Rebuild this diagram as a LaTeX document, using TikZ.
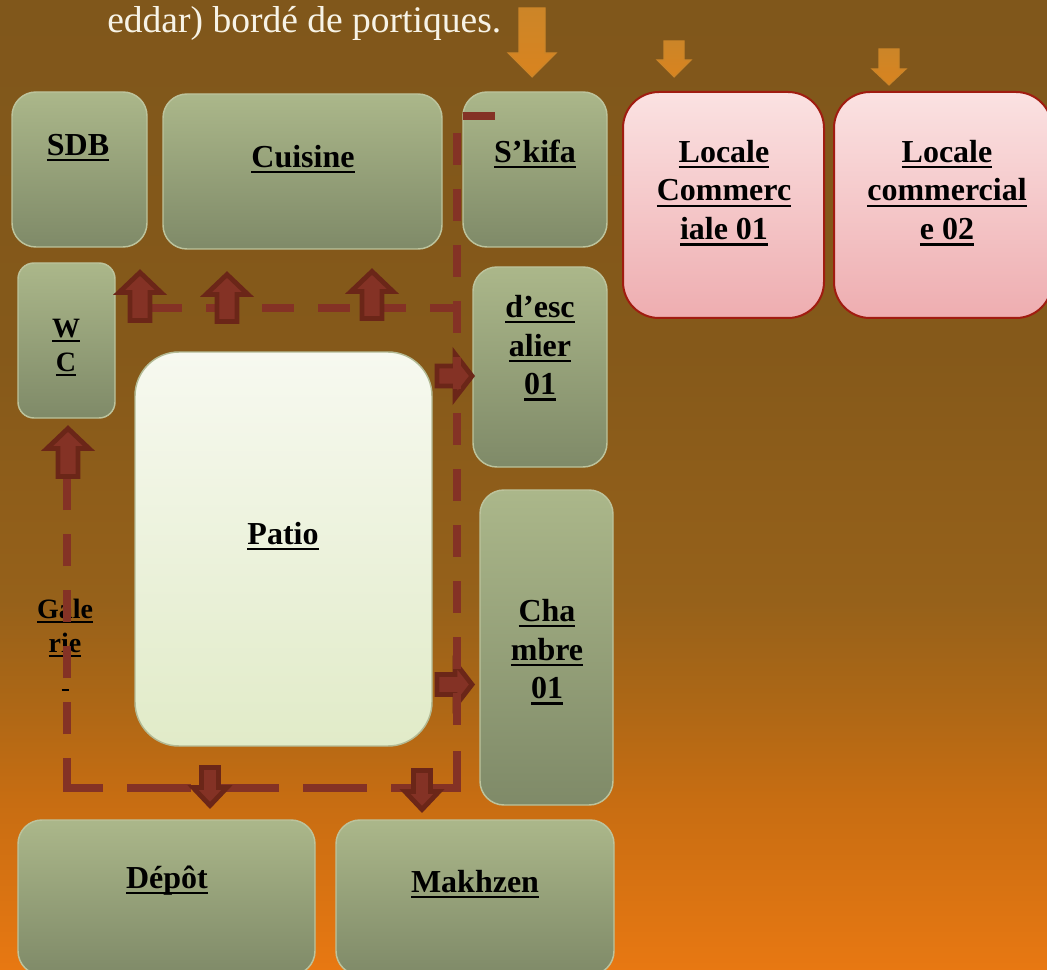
\documentclass[tikz,border=0pt]{standalone}
\usepackage{fontspec}
\setmainfont{Liberation Serif}
\definecolor{bgA}{HTML}{E87812}
\definecolor{bgB}{HTML}{C76D12}
\definecolor{bgC}{HTML}{AC6716}
\definecolor{bgD}{HTML}{96611A}
\definecolor{bgE}{HTML}{85591A}
\definecolor{bgF}{HTML}{80571B}
\definecolor{lineRed}{HTML}{843225}
\definecolor{darkRed}{HTML}{6B2618}
\definecolor{greenTop}{HTML}{ABB78A}
\definecolor{greenBot}{HTML}{7F8A68}
\definecolor{greenEdge}{HTML}{BCC39C}
\definecolor{pinkTop}{HTML}{FBE2E2}
\definecolor{pinkBot}{HTML}{EEADB0}
\definecolor{pinkEdge}{HTML}{A01C10}
\definecolor{patioTop}{HTML}{F7F9F0}
\definecolor{patioBot}{HTML}{E1EBC8}
\definecolor{patioEdge}{HTML}{B3BA94}
\definecolor{orangeTop}{HTML}{CC8528}
\definecolor{orangeMid}{HTML}{E08414}
\definecolor{orangeBot}{HTML}{D9841F}
\definecolor{topText}{HTML}{F7F3E6}
\pgfdeclareverticalshading{bgshade}{100bp}{color(0bp)=(bgA); color(25bp)=(bgA); color(33.76bp)=(bgB); color(38.9bp)=(bgC); color(44.07bp)=(bgD); color(56.96bp)=(bgE); color(75bp)=(bgF); color(100bp)=(bgF)}
\newcommand\ulin[1]{\strut\setbox0=\hbox{#1}\rlap{\rule[-0.19em]{\wd0}{0.075em}}\box0}
% tip x, tip y, rotation, half width, head length, shaft half width, total length
\newcommand\redarrow[7]{\draw[redarrowstyle,shift={(#1,#2)},rotate=#3] (0,0) -- (#4,#5) -- (#6,#5) -- (#6,#7) -- (-#6,#7) -- (-#6,#5) -- (-#4,#5) -- cycle;}
\newcommand\orangearrow[6]{\shade[orangearrowstyle,shift={(#1,#2)},rotate=180] (0,0) -- (#3,#4) -- (#5,#4) -- (#5,#6) -- (-#5,#6) -- (-#5,#4) -- (-#3,#4) -- cycle;}
\tikzset{
  box/.style={rectangle,inner sep=0pt,outer sep=0pt,line width=1.1pt},
  size/.style 2 args={minimum width=#1*0.75pt,minimum height=#2*0.75pt},
  greenbox/.style={box,draw=greenEdge,top color=greenTop,bottom color=greenBot,rounded corners=18pt},
  pinkbox/.style={box,draw=pinkEdge,line width=1.5pt,top color=pinkTop,bottom color=pinkBot,rounded corners=27pt},
  patiobox/.style={box,draw=patioEdge,top color=patioTop,bottom color=patioBot,rounded corners=33pt},
  biglabel/.style={anchor=north,align=center,inner sep=0pt,text=black,font=\fontsize{24}{29}\selectfont\bfseries},
  smalllabel/.style={anchor=north,align=center,inner sep=0pt,text=black,font=\fontsize{21}{25.5}\selectfont\bfseries},
  redarrowstyle/.style={draw=darkRed,fill=lineRed,line width=3.6pt,miter limit=10},
  orangearrowstyle/.style={top color=orangeTop,middle color=orangeMid,bottom color=orangeBot,draw=orangeTop,line width=0.8pt},
  shortdash/.style={draw=lineRed,line width=6pt,dash pattern=on 24pt off 18pt},
  longdash/.style={draw=lineRed,line width=6pt,dash pattern=on 48pt off 18pt},
  solidred/.style={draw=lineRed,line width=6pt},
}
\begin{document}
\begin{tikzpicture}[x=0.75pt,y=-0.75pt]
\useasboundingbox (0,0) rectangle (1047,970);
\clip (0,0) rectangle (1047,970);
\shade[shading=bgshade] (0,0) rectangle (1047,970);

\node[anchor=base west,inner sep=0pt,text=topText,font=\fontsize{28.15}{34}\selectfont] (intro) at (107,33) {eddar) bordé de portiques.};

% rooms
\node[greenbox,size={135}{155}] (sdb) at (79.5,169.5) {};
\node[greenbox,size={279}{155}] (cuisine) at (302.5,171.5) {};
\node[greenbox,size={144}{155}] (skifa) at (535,169.5) {};
\node[pinkbox,size={201}{226}] (loc1) at (723.5,205) {};
\node[pinkbox,size={218}{226}] (loc2) at (943,205) {};
\node[greenbox,rounded corners=12pt,size={97}{155}] (wc) at (66.5,340.5) {};
\node[patiobox,size={297}{394}] (patio) at (283.5,549) {};
\node[greenbox,size={134}{200}] (esc) at (540,367) {};
\node[greenbox,size={133}{315}] (chambre) at (546.5,647.5) {};
\node[greenbox,size={297}{155}] (depot) at (166.5,897.5) {};
\node[greenbox,size={278}{155}] (makhzen) at (475,897.5) {};

% labels
\node[biglabel] (lsdb) at (78,128) {\ulin{SDB}};
\node[biglabel] (lcuisine) at (303,140) {\ulin{Cuisine}};
\node[biglabel] (lskifa) at (535,135) {\ulin{S’kifa}};
\node[biglabel] (lloc1) at (724,135) {\ulin{Locale}\\\ulin{Commerc}\\\ulin{iale 01}};
\node[biglabel] (lloc2) at (947,135) {\ulin{Locale}\\\ulin{commercial}\\\ulin{e 02}};
\node[smalllabel] (lwc) at (66,313) {\ulin{W}\\\ulin{C}};
\node[biglabel] (lesc) at (540,290) {\ulin{d’esc}\\\ulin{alier}\\\ulin{01}};
\node[biglabel] (lpatio) at (283,517) {\ulin{Patio}};
\node[biglabel] (lchambre) at (547,594) {\ulin{Cha}\\\ulin{mbre}\\\ulin{01}};
\node[smalllabel] (lgal) at (65,594) {\ulin{Gale}\\\ulin{rie}\\\ulin{\ }};
\node[biglabel] (ldepot) at (167,861) {\ulin{Dépôt}};
\node[biglabel] (lmakhzen) at (475,865) {\ulin{Makhzen}};

% orange entrance arrows
\orangearrow{532}{77}{24}{24}{13}{69}
\orangearrow{674}{77}{17}{17}{10}{36}
\orangearrow{889}{85}{17}{16}{10}{36}

% circulation lines
\coordinate (stubA) at (463,116);
\coordinate (stubB) at (495,116);
\coordinate (topA) at (150,308);
\coordinate (topB) at (461,308);
\coordinate (rightA) at (457,133);
\coordinate (rightB) at (457,727);
\coordinate (rightC) at (457,751);
\coordinate (rightD) at (457,792);
\coordinate (botA) at (455,788);
\coordinate (botB) at (63,788);
\coordinate (leftA) at (67,790);
\coordinate (leftB) at (67,440);

\redarrow{472}{376}{-90}{22}{17}{10}{35}
\redarrow{472}{684.5}{-90}{22}{17}{10}{35}

\draw[solidred] (stubA) -- (stubB);
\draw[shortdash] (rightA) -- (rightB);
\draw[solidred] (rightC) -- (rightD);
\draw[shortdash] (topA) -- (topB);
\draw[longdash] (botA) -- (botB);
\draw[shortdash] (leftA) -- (leftB);

\redarrow{140}{272.5}{0}{21}{20}{10}{48}
\redarrow{227}{274.5}{0}{21}{20}{10}{47}
\redarrow{372}{271.5}{0}{21}{20}{10}{47}
\redarrow{68}{428.5}{0}{21}{20}{10}{48}
\redarrow{210}{805.5}{180}{17}{18}{8.5}{38}
\redarrow{422}{809.5}{180}{17}{18}{8.5}{39}
\end{tikzpicture}
\end{document}
